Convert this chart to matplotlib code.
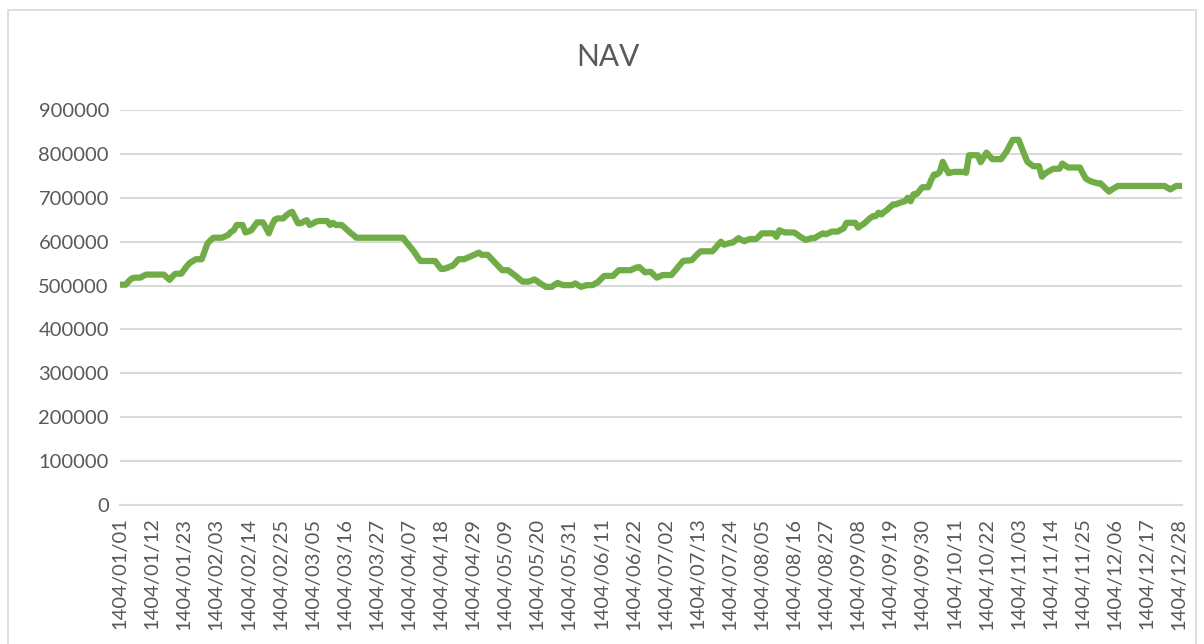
import numpy as np
import matplotlib
matplotlib.use("Agg")
import matplotlib.pyplot as plt
from matplotlib.patches import Rectangle

# NAV per day, in thousands, one list per month of 1404 (Persian calendar)
m01 = [502, 502, 502, 510, 516, 518, 518, 518, 522, 525, 525, 525, 525, 525, 525, 525,
       519, 513, 521, 527, 527, 527, 536, 545, 552, 556, 560, 560, 560, 578, 596]
m02 = [603, 609, 609, 609, 609, 612, 615, 622, 626, 638, 638, 638, 621, 623, 626, 635,
       644, 644, 644, 632, 619, 636, 650, 653, 653, 653, 660, 665, 668, 655, 642]
m03 = [642, 646, 649, 638, 641, 645, 647, 647, 647, 647, 638, 643, 638, 638, 638, 632,
       626, 620, 615, 609, 609, 609, 609, 609, 609, 609, 609, 609, 609, 609, 609]
m04 = [609, 609, 609, 609, 609, 600, 592, 584, 575, 565, 556, 556, 556, 556, 556, 556,
       547, 538, 538, 540, 543, 545, 552, 560, 560, 560, 563, 566, 569, 572, 575]
m05 = [570, 570, 570, 563, 556, 549, 542, 535, 535, 535, 530, 525, 520, 514, 509, 509,
       509, 511, 514, 510, 505, 501, 497, 497, 497, 502, 506, 503, 501, 501, 501]
m06 = [501, 505, 501, 497, 499, 501, 501, 501, 505, 509, 516, 522, 522, 522, 522, 529,
       535, 535, 535, 535, 535, 538, 541, 542, 536, 530, 531, 531, 524, 518, 521]
m07 = [524, 524, 524, 524, 532, 540, 548, 556, 557, 557, 558, 565, 572, 578, 578, 578,
       578, 578, 585, 593, 600, 593, 595, 597, 598, 603, 608, 604, 601, 604]
m08 = [606, 606, 606, 612, 619, 619, 619, 619, 619, 611, 626, 623, 621, 621, 621, 621,
       617, 612, 608, 604, 606, 608, 608, 612, 616, 619, 617, 620, 623, 623]
m09 = [623, 627, 630, 643, 643, 643, 643, 632, 637, 641, 647, 653, 658, 658, 666, 662,
       668, 673, 679, 685, 685, 688, 690, 692, 700, 692, 708, 708, 716, 724]
m10 = [724, 724, 740, 753, 753, 759, 782, 768, 756, 758, 759, 759, 759, 759, 757, 797,
       797, 797, 797, 781, 792, 803, 795, 788, 788, 788, 788, 797, 807, 820]
m11 = [832, 832, 832, 815, 798, 782, 777, 772, 772, 772, 748, 755, 759, 763, 766, 766,
       766, 778, 773, 769, 769, 769, 769, 769, 756, 744, 740, 737, 735, 733]
m12 = [733, 727, 720, 714, 719, 723, 727, 727, 727, 727, 727, 727, 727, 727, 727, 727,
       727, 727, 727, 727, 727, 727, 727, 723, 719, 723, 727, 727, 727]

months = [m01, m02, m03, m04, m05, m06, m07, m08, m09, m10, m11, m12]

dates = []
nav = []
for mi, vals in enumerate(months):
    for di, v in enumerate(vals):
        dates.append(f"1404/{mi+1:02d}/{di+1:02d}")
        nav.append(v * 1000)

x = np.arange(len(nav))
tick_idx = x[::11]
tick_labels = [dates[i] for i in tick_idx]
yticks = np.arange(0, 900001, 100000)

plt.rcParams['font.family'] = ['Lato', 'DejaVu Sans']
gray = '#595959'

W, H = 1204, 644
fig = plt.figure(figsize=(W/100, H/100), dpi=100)
ax = fig.add_axes([120/W, 1 - 505/H, 1062/W, 395/H])

ax.plot(x, nav, color='#70AD47', lw=4.5, solid_joinstyle='round', solid_capstyle='round')

ax.set_xlim(0, len(nav) - 1)
ax.set_ylim(0, 900000)
ax.set_yticks(yticks)
ax.set_yticklabels([str(v) for v in yticks])
ax.set_xticks(tick_idx)
ax.set_xticklabels(tick_labels, rotation=90)
ax.tick_params(axis='both', length=0, labelsize=14.5, colors=gray)
ax.tick_params(axis='y', pad=8)
ax.tick_params(axis='x', pad=9)
ax.grid(axis='y', color='#D9D9D9', lw=1.5)
ax.set_axisbelow(True)
for s in ['top', 'right', 'left']:
    ax.spines[s].set_visible(False)
ax.spines['bottom'].set_color('#D9D9D9')
ax.spines['bottom'].set_linewidth(1.5)

fig.text(608/W, 1 - 57/H, 'NAV', ha='center', va='center', fontsize=21.5, color=gray)

# chart border
fig.patches.append(Rectangle((8/W, -0.05), 1188/W, 1.05 - 10/H, transform=fig.transFigure,
                             fill=False, edgecolor='#D9D9D9', lw=1.2))

fig.savefig('out.png', dpi=100, facecolor='white')
